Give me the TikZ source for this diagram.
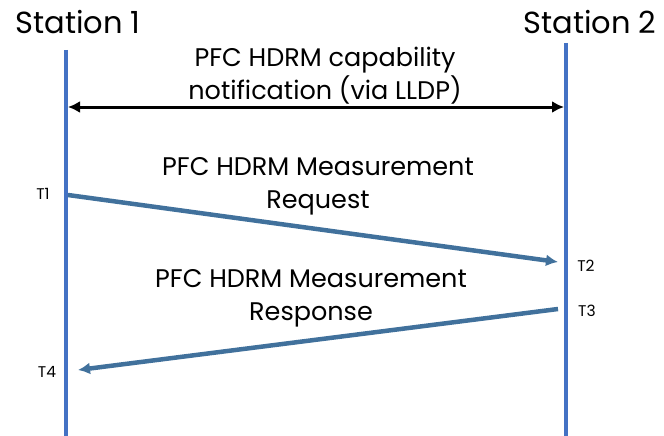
\documentclass[tikz,border=0pt]{standalone}
\usepackage{fontspec}
\setmainfont{Poppins}
\usetikzlibrary{arrows.meta, positioning}

\definecolor{lifeblue}{RGB}{68,114,196}
\definecolor{msgblue}{RGB}{65,113,156}

\begin{document}
\begin{tikzpicture}[x=1pt, y=-1pt, >={Latex[length=12pt, width=12pt]}]

% --- DEFINITIONS ---
\def\stA{66}     % x of Station 1 lifeline
\def\stB{566}    % x of Station 2 lifeline
\def\bottom{436} % bottom of the lifelines

\tikzset{
  station/.style={font=\fontsize{30.5}{34}\selectfont, inner sep=0pt},
  msglabel/.style={font=\fontsize{25.5}{33}\selectfont, align=center, inner sep=0pt},
  tlabel/.style={font=\fontsize{15.5}{17}\selectfont, inner sep=0pt},
  lifeline/.style={lifeblue, line width=3.5pt},
  message/.style={->, msgblue, line width=4.5pt},
}

\useasboundingbox (0,0) rectangle (664,436);

% --- 1. STATIONS ---
\node[station] (s1) at (78, 22) {Station 1};
\node[station] (s2) at (590, 22) {Station 2};

\coordinate (s1top) at (\stA, 50);
\coordinate (s1bot) at (\stA, \bottom);
\coordinate (s2top) at (\stB, 43);
\coordinate (s2bot) at (\stB, \bottom);

\draw[lifeline] (s1top) -- (s1bot);
\draw[lifeline] (s2top) -- (s2bot);

% --- 2. CAPABILITY NOTIFICATION ---
\coordinate (capA) at (\stA+2, 107);
\coordinate (capB) at (\stB-2, 107);
\draw[<->, black, line width=3pt] (capA) -- (capB);
\node[msglabel] (cap) at (325, 76) {PFC HDRM capability\\notification (via LLDP)};

% --- 3. REQUEST (T1 -> T2) ---
\coordinate (t1) at (\stA+2, 195);
\coordinate (t2) at (\stB-8, 262);
\draw[message] (t1) -- (t2);
\node[msglabel] (req) at (318, 186) {PFC HDRM Measurement\\Request};
\node[tlabel] (t1lab) at (43, 194) {T1};
\node[tlabel] (t2lab) at (586, 266) {T2};

% --- 4. RESPONSE (T3 -> T4) ---
\coordinate (t3) at (\stB-8, 309);
\coordinate (t4) at (\stA+12, 370);
\draw[message] (t3) -- (t4);
\node[msglabel] (resp) at (311, 298) {PFC HDRM Measurement\\Response};
\node[tlabel] (t3lab) at (587, 311) {T3};
\node[tlabel] (t4lab) at (47, 372) {T4};

\end{tikzpicture}
\end{document}
